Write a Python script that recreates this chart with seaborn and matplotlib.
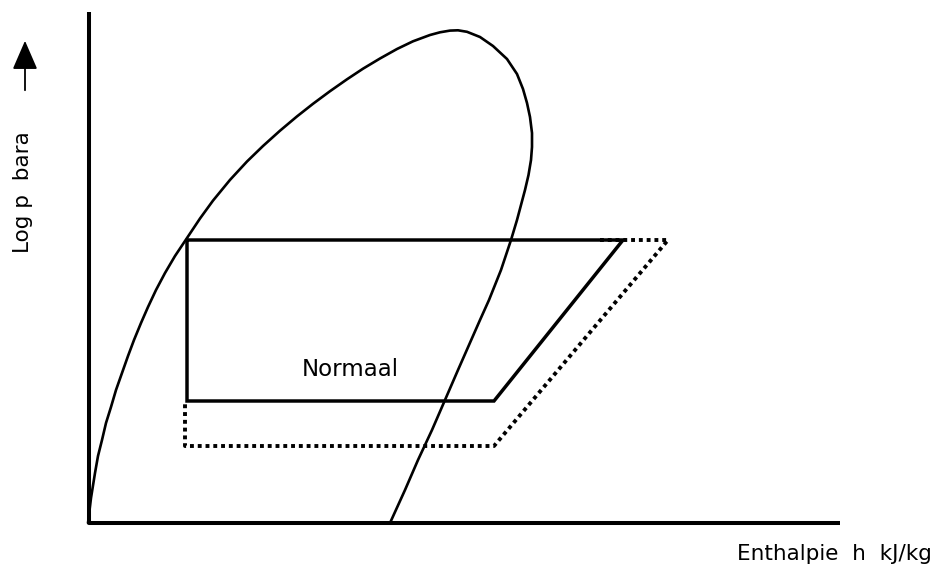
import matplotlib
matplotlib.use("Agg")
import matplotlib.pyplot as plt
import seaborn as sns
import pandas as pd

sns.set_theme(style="white")
plt.rcParams['font.family'] = ['DejaVu Sans']

# Saturation dome (h, log p) in drawing units
dome_h = [88, 91, 95, 98, 102, 106, 111, 116, 122, 128, 134, 141, 148, 156, 165, 175, 185,
          187, 200, 213, 230, 247, 263, 280, 297, 313, 330, 347, 363, 380, 397, 413, 430,
          440, 450, 458, 467, 480, 493, 507, 517, 523, 527, 530, 532, 532, 531, 528.5, 525, 521,
          517, 511, 506, 501, 495, 489, 480, 469, 458, 445, 432, 418, 405, 390]
dome_p = [523, 498, 473, 456, 440, 423, 407, 390, 373, 356, 340, 323, 307, 290, 273, 256, 241,
          238, 218.5, 200.6, 179.9, 161.5, 146, 130.7, 116.4, 103.8, 91.2, 79.3, 68.7, 58.5,
          49, 41.3, 35,
          32.3, 30.6, 30.3, 31.8, 37, 46, 59, 74, 89, 103, 117, 133, 147, 160, 175, 190, 205,
          220, 240, 255, 270, 285, 300, 320, 345, 370, 400, 430, 460, 490, 523]

# Normal cycle
norm_h = [187, 623, 494, 187, 187]
norm_p = [240, 240, 401, 401, 240]

# Modified cycle (dotted part)
mod_h = [600, 668, 494, 185, 185]
mod_p = [240, 240, 446, 446, 401]

# Axes lines
axis_h = [89, 89, 840]
axis_p = [12, 523, 523]

H = 570
df_dome = pd.DataFrame({"h": dome_h, "p": [H - v for v in dome_p]})
df_norm = pd.DataFrame({"h": norm_h, "p": [H - v for v in norm_p]})
df_mod = pd.DataFrame({"h": mod_h, "p": [H - v for v in mod_p]})
df_axis = pd.DataFrame({"h": axis_h, "p": [H - v for v in axis_p]})

fig = plt.figure(figsize=(9.39, 5.70), dpi=100)
ax = fig.add_axes([0, 0, 1, 1])

sns.lineplot(data=df_axis, x="h", y="p", sort=False, estimator=None, color="black",
             lw=2.9, ax=ax, solid_capstyle="butt")
sns.lineplot(data=df_dome, x="h", y="p", sort=False, estimator=None, color="black",
             lw=1.9, ax=ax, solid_joinstyle="round")
sns.lineplot(data=df_mod, x="h", y="p", sort=False, estimator=None, color="black",
             lw=2.8, ax=ax, linestyle=(0, (1.0, 1.0)), dash_capstyle="butt")
sns.lineplot(data=df_norm, x="h", y="p", sort=False, estimator=None, color="black",
             lw=2.5, ax=ax, solid_joinstyle="miter")

ax.text(350, H - 370, "Normaal", ha="center", va="center", fontsize=16.5, color="black")
ax.text(932, H - 554, "Enthalpie  h  kJ/kg", ha="right", va="center", fontsize=15.5, color="black")
ax.text(23, H - 192, "Log p  bara", ha="center", va="center", rotation=90,
        fontsize=15.5, color="black")
ax.annotate("", xy=(25, H - 38), xytext=(25, H - 93),
            arrowprops=dict(arrowstyle="-|>,head_length=1.5,head_width=0.65",
                            color="black", lw=1.3))

ax.set_xlim(0, 939)
ax.set_ylim(0, 570)
ax.set_axis_off()

fig.savefig("out.png", dpi=100, facecolor="white")
